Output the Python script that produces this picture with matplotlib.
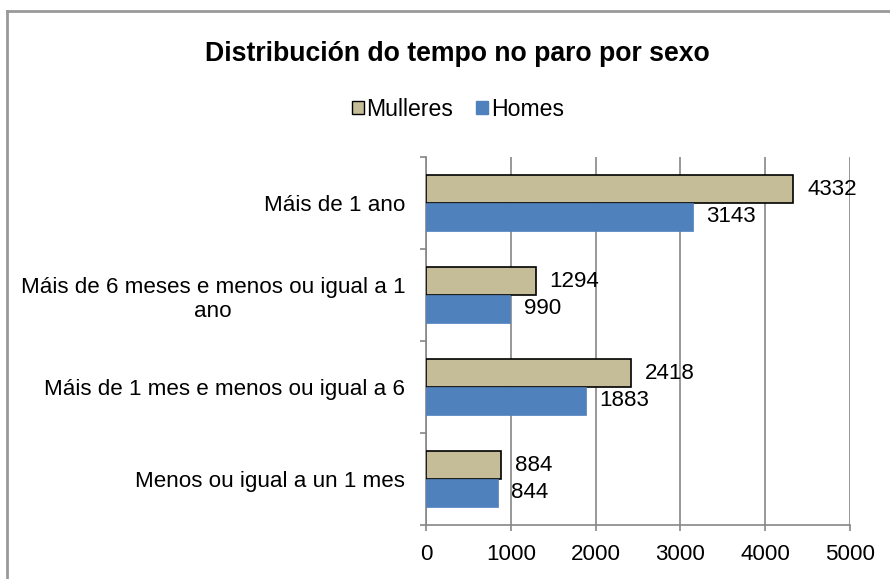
import matplotlib
matplotlib.use("Agg")
import matplotlib.pyplot as plt
import numpy as np
from matplotlib.patches import Patch
from matplotlib.lines import Line2D

plt.rcParams['font.family'] = ['Liberation Sans', 'DejaVu Sans']

categories = ["Menos ou igual a un 1 mes",
              "Máis de 1 mes e menos ou igual a 6",
              "Máis de 6 meses e menos ou igual a 1\nano",
              "Máis de 1 ano"]
mulleres = [884, 2418, 1294, 4332]
homes = [844, 1883, 990, 3143]
xticks = [0, 1000, 2000, 3000, 4000, 5000]
title = "Distribución do tempo no paro por sexo"

C_M = "#C4BD97"
C_H = "#4F81BD"
GRAY = "#868686"
FS = 16.1

fig = plt.figure(figsize=(8.9, 5.79), dpi=100)
ax = fig.add_axes([426/890, 1-525/579, (850-426)/890, (525-157)/579])

y = np.arange(len(categories))
h = 0.3
bm = ax.barh(y + h/2, mulleres, height=h, color=C_M, edgecolor="black", linewidth=1.2, zorder=3)
bh = ax.barh(y - h/2, homes, height=h, color=C_H, edgecolor=C_H, linewidth=0.5, zorder=3)

for b, v in zip(bm, mulleres):
    ax.annotate(str(v), (b.get_width(), b.get_y() + b.get_height()/2), xytext=(10, 0),
                textcoords="offset points", va="center", ha="left", fontsize=FS, zorder=4)
for b, v in zip(bh, homes):
    ax.annotate(str(v), (b.get_width(), b.get_y() + b.get_height()/2), xytext=(10, 0),
                textcoords="offset points", va="center", ha="left", fontsize=FS, zorder=4)

ax.set_xlim(0, 5000)
ax.set_ylim(-0.5, len(categories) - 0.5)
ax.set_xticks(xticks)
ax.set_xticklabels([str(t) for t in xticks], fontsize=FS)
ax.set_yticks(np.arange(len(categories) + 1) - 0.5)
ax.set_yticklabels([])
ax.set_yticks(y, minor=True)
ax.set_yticklabels(categories, minor=True, fontsize=FS, multialignment="center")
ax.tick_params(axis="y", which="minor", length=0, pad=15)
ax.tick_params(axis="y", which="major", length=4, width=1.2, color=GRAY, direction="out")
ax.tick_params(axis="x", length=4, width=1.2, color=GRAY, direction="out", pad=9.5)

ax.grid(axis="x", color=GRAY, linewidth=1.2, zorder=0)
ax.set_axisbelow(True)
for s in ["top", "right"]:
    ax.spines[s].set_visible(False)
for s in ["left", "bottom"]:
    ax.spines[s].set_color(GRAY)
    ax.spines[s].set_linewidth(1.2)

fig.text(457/890, 1-54/579, title, ha="center", va="center", fontsize=19.2, fontweight="bold")

handles = [Patch(facecolor=C_M, edgecolor="black", linewidth=1.0),
           Patch(facecolor=C_H, edgecolor=C_H)]
fig.legend(handles, ["Mulleres", "Homes"], loc="center", bbox_to_anchor=(458/890, 1-109/579),
           ncol=2, frameon=False, fontsize=16.6, handlelength=0.5, handleheight=0.5,
           handletextpad=0.12, columnspacing=1.0, borderpad=0)

# outer chart border (top and left visible)
fig.add_artist(Line2D([7/890, 1], [1-11/579, 1-11/579], color="#999999", linewidth=2.0, transform=fig.transFigure))
fig.add_artist(Line2D([7/890, 7/890], [0, 1-11/579], color="#999999", linewidth=2.0, transform=fig.transFigure))

fig.savefig("out.png", dpi=100)
